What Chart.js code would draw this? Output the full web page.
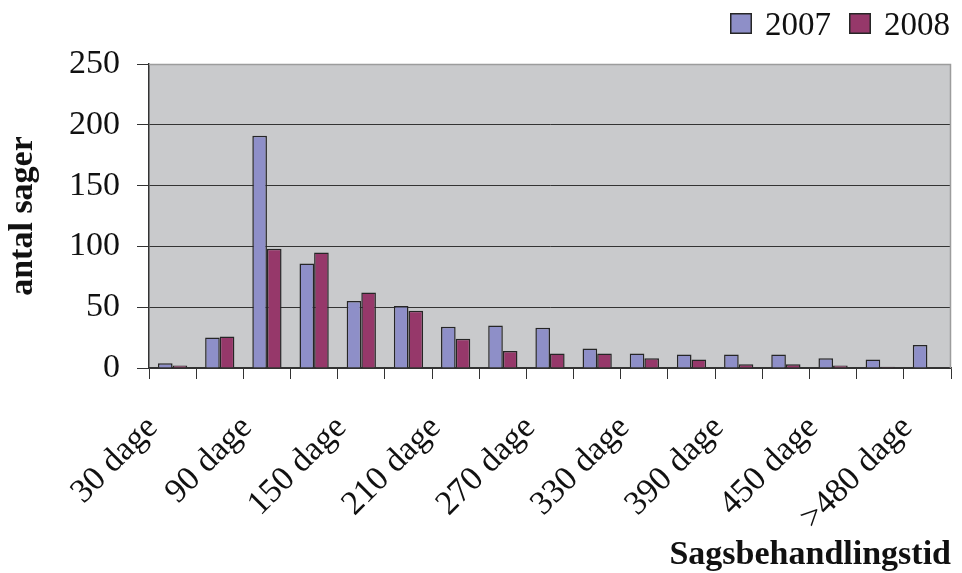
<!DOCTYPE html>
<html>
<head>
<meta charset="utf-8">
<script src="https://cdn.jsdelivr.net/npm/chart.js@4"></script>
<style>
  html, body { margin: 0; padding: 0; background: #ffffff; }
  canvas { display: block; }
</style>
</head>
<body>
<canvas id="c" width="962" height="573"></canvas>
<script>
// Sagsbehandlingstid: antal sager fordelt på behandlingstid, 2007 og 2008
const categories = ['30 dage', '60 dage', '90 dage', '120 dage', '150 dage', '180 dage',
  '210 dage', '240 dage', '270 dage', '300 dage', '330 dage', '360 dage', '390 dage',
  '420 dage', '450 dage', '480 dage', '>480 dage'];
const values2007 = [4, 25, 191, 86, 55, 51, 34, 35, 33, 16, 12, 11, 11, 11, 8, 7, 19];
const values2008 = [2, 26, 98, 95, 62, 47, 24, 14, 12, 12, 8, 7, 3, 3, 2, 1, 0];
const yTicks = [0, 50, 100, 150, 200, 250];

const FONT = '"Liberation Serif", "Times New Roman", serif';

// grey plot area with a light frame on top and right
const plotBackground = {
  id: 'plotBackground',
  beforeDraw(chart) {
    const { ctx, chartArea: a } = chart;
    ctx.save();
    ctx.fillStyle = '#C9CACC';
    ctx.fillRect(a.left, a.top, a.right - a.left, a.bottom - a.top);
    ctx.restore();
  },
  afterDraw(chart) {
    const { ctx, chartArea: a } = chart;
    ctx.save();
    ctx.strokeStyle = '#9c9c9c';
    ctx.lineWidth = 1.5;
    ctx.beginPath();
    ctx.moveTo(a.left, a.top + 0.5);
    ctx.lineTo(a.right - 0.5, a.top + 0.5);
    ctx.lineTo(a.right - 0.5, a.bottom);
    ctx.stroke();
    ctx.restore();
  }
};

// compact legend in the top right corner, built from the datasets
const cornerLegend = {
  id: 'cornerLegend',
  afterDraw(chart) {
    const { ctx } = chart;
    const box = 22, gapText = 13, gapItem = 18, right = 950, boxTop = 13, baseline = 35;
    ctx.save();
    ctx.font = '33px ' + FONT;
    ctx.textBaseline = 'alphabetic';
    ctx.textAlign = 'left';
    const items = chart.data.datasets.map(ds => ({
      text: ds.label, fill: ds.backgroundColor, stroke: ds.borderColor,
      w: ctx.measureText(ds.label).width
    }));
    let total = items.reduce((s, it) => s + box + gapText + it.w, 0) + gapItem * (items.length - 1);
    let x = right - total;
    items.forEach(it => {
      ctx.fillStyle = it.fill;
      ctx.fillRect(x, boxTop, box, box - 1);
      ctx.strokeStyle = it.stroke;
      ctx.lineWidth = 1.5;
      ctx.strokeRect(x + 0.75, boxTop + 0.75, box - 1.5, box - 2.5);
      ctx.fillStyle = '#111';
      ctx.fillText(it.text, x + box + gapText, baseline);
      x += box + gapText + it.w + gapItem;
    });
    ctx.restore();
  }
};

new Chart(document.getElementById('c'), {
  type: 'bar',
  data: {
    labels: categories,
    datasets: [
      {
        label: '2007',
        data: values2007,
        backgroundColor: '#8E8FC8',
        borderColor: '#262626',
        borderWidth: 1.5,
        barPercentage: 1.0,
        categoryPercentage: 0.62
      },
      {
        label: '2008',
        data: values2008,
        backgroundColor: '#96386A',
        borderColor: '#262626',
        borderWidth: 1.5,
        barPercentage: 1.0,
        categoryPercentage: 0.62
      }
    ]
  },
  options: {
    responsive: false,
    animation: false,
    layout: { padding: { left: 0, right: 11, top: 64, bottom: 0 } },
    plugins: {
      legend: { display: false },
      tooltip: { enabled: false }
    },
    scales: {
      x: {
        afterFit(scale) {
          scale.height = 205;
          scale.paddingLeft = 0;
          scale.paddingRight = 0;
        },
        grid: {
          offset: true,
          drawOnChartArea: false,
          drawTicks: true,
          tickLength: 11,
          tickColor: '#333'
        },
        border: { color: '#333', width: 1.5 },
        ticks: {
          autoSkip: false,
          maxRotation: 45,
          minRotation: 45,
          padding: 29,
          labelOffset: -20,
          color: '#111',
          font: { family: FONT, size: 34 },
          callback(value, index) {
            return index % 2 === 0 ? categories[index] : '';
          }
        },
        title: {
          display: true,
          text: 'Sagsbehandlingstid',
          align: 'end',
          color: '#111',
          font: { family: FONT, size: 34, weight: 'bold' },
          padding: { top: 4, bottom: -3 }
        }
      },
      y: {
        min: 0,
        max: 250,
        afterBuildTicks(scale) {
          scale.ticks = yTicks.map(v => ({ value: v }));
        },
        afterFit(scale) {
          scale.width = 149;
        },
        grid: {
          color(ctx) {
            return ctx.tick && ctx.tick.value === 250 ? 'rgba(0,0,0,0)' : '#333';
          },
          tickColor: '#333',
          tickLength: 12,
          lineWidth: 1
        },
        border: { color: '#333', width: 1.5 },
        ticks: {
          padding: 17,
          color: '#111',
          font: { family: FONT, size: 34 }
        },
        title: {
          display: true,
          text: 'antal sager',
          color: '#111',
          font: { family: FONT, size: 34, weight: 'bold' },
          padding: { top: 3, bottom: 24 }
        }
      }
    }
  },
  plugins: [plotBackground, cornerLegend]
});
</script>
</body>
</html>
